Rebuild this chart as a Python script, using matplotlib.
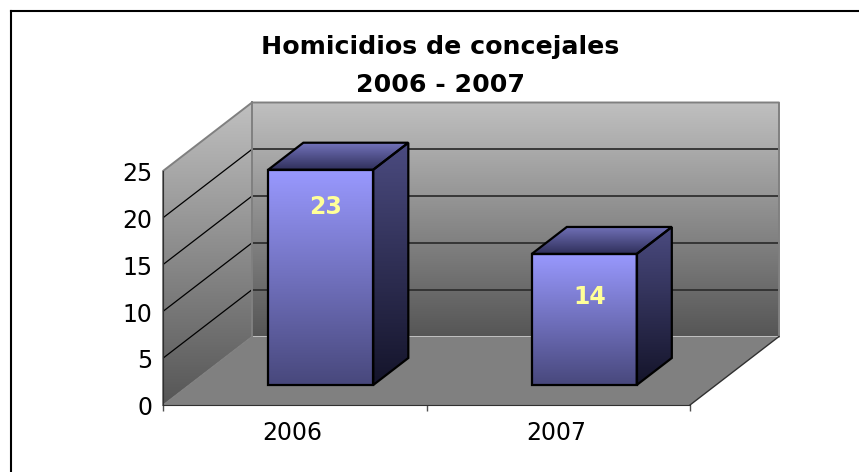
import matplotlib
matplotlib.use("Agg")
import matplotlib.pyplot as plt
import numpy as np
from matplotlib.patches import Polygon
from matplotlib.transforms import ScaledTranslation

categories = ["2006", "2007"]
values = [23, 14]
yticks = [0, 5, 10, 15, 20, 25]

W, H = 859, 472
plt.rcParams['font.family'] = ['DejaVu Sans']

fig = plt.figure(figsize=(W / 100, H / 100), dpi=100)
fig.patch.set_facecolor('white')

# outer frame
fig.add_artist(plt.Line2D([11 / W, 11 / W], [1 - 11 / H, 0], color='black', lw=1.5))
fig.add_artist(plt.Line2D([11 / W, 1], [1 - 11 / H, 1 - 11 / H], color='black', lw=1.5))

# axes box is the front plane of the 3d chart
x0, x1, y0, y1 = 163, 690, 405, 171
ax = fig.add_axes([x0 / W, 1 - y0 / H, (x1 - x0) / W, (y0 - y1) / H])
ax.patch.set_visible(False)
ax.set_xlim(0, 2)
ax.set_ylim(0, 25)

# depth shear, in data units per unit of depth
DX = 89 / 263.5
DY = 68.5 / 9.36


def pr(x, y, d):
    return (x + DX * d, y + DY * d)


def grad_poly(pts, top, bottom, edge=None, lw=0, z=1):
    pts = np.array(pts)
    c0 = np.array(matplotlib.colors.to_rgb(top))
    c1 = np.array(matplotlib.colors.to_rgb(bottom))
    t = np.linspace(0, 1, 256)[:, None, None]
    img = c0[None, None, :] * (1 - t) + c1[None, None, :] * t
    ext = [pts[:, 0].min(), pts[:, 0].max(), pts[:, 1].min(), pts[:, 1].max()]
    im = ax.imshow(img, extent=ext, origin='upper', aspect='auto', zorder=z, interpolation='bilinear')
    clip = Polygon(pts, transform=ax.transData, fc='none', ec='none')
    ax.add_patch(clip)
    im.set_clip_path(clip)
    im.set_clip_box(fig.bbox)  # walls and bars stick out of the front plane
    if lw:
        ax.add_patch(Polygon(pts, fc='none', ec=edge, lw=lw, zorder=z + 0.1, clip_on=False, joinstyle='miter'))


ymax = yticks[-1]
# back wall, side wall, floor
grad_poly([pr(0, 0, 1), pr(2, 0, 1), pr(2, ymax, 1), pr(0, ymax, 1)], '#c0c0c0', '#565656', z=1)
grad_poly([pr(0, 0, 0), pr(0, 0, 1), pr(0, ymax, 1), pr(0, ymax, 0)], '#c0c0c0', '#565656', z=1)
ax.add_patch(Polygon([pr(0, 0, 0), pr(2, 0, 0), pr(2, 0, 1), pr(0, 0, 1)], fc='#808080', ec='none', zorder=1.5, clip_on=False))

# grid lines
for v in yticks[1:-1]:
    a, b, c = pr(0, v, 0), pr(0, v, 1), pr(2, v, 1)
    ax.plot([a[0], b[0]], [a[1], b[1]], color='black', lw=0.9, zorder=2, clip_on=False)
    ax.plot([b[0], c[0]], [b[1], c[1]], color='#303030', lw=1.3, zorder=2, clip_on=False)

# wall outlines
out = [pr(0, 0, 0), pr(0, ymax, 0), pr(0, ymax, 1), pr(2, ymax, 1), pr(2, 0, 1)]
ax.plot(*zip(*out), color='#808080', lw=1.4, zorder=2.2, clip_on=False)
ax.plot(*zip(pr(0, 0, 1), pr(0, ymax, 1)), color='#808080', lw=1.4, zorder=2.2, clip_on=False)
ax.plot(*zip(pr(0, 0, 0), pr(0, 0, 1)), color='#808080', lw=0.8, zorder=2.2, clip_on=False)
ax.plot(*zip(pr(2, 0, 0), pr(2, 0, 1)), color='#303030', lw=1, zorder=2.2, clip_on=False)

# bars
bw = 105 / 263.5
d0, d1 = 20 / 68.5, 47 / 68.5
label_drop = [4.0, 4.6]
label_shift = [0.0, 0.004]
for i, v in enumerate(values):
    l, r = i + 0.5 - bw / 2, i + 0.5 + bw / 2
    z = 3 + i
    grad_poly([pr(r, 0, d0), pr(r, 0, d1), pr(r, v, d1), pr(r, v, d0)], '#4b4b80', '#14142a', edge='black', lw=1.6, z=z)
    grad_poly([pr(l, v, d0), pr(r, v, d0), pr(r, v, d1), pr(l, v, d1)], '#7272ba', '#2f2f5a', edge='black', lw=1.6, z=z)
    grad_poly([pr(l, 0, d0), pr(r, 0, d0), pr(r, v, d0), pr(l, v, d0)], '#9999ff', '#48487c', edge='black', lw=1.6, z=z)
    tx, ty = pr(i + 0.5, v - label_drop[i], d0)
    ax.text(tx + 0.017 + label_shift[i], ty, str(v), color='#ffff99', fontsize=17, fontweight='bold',
            ha='center', va='center', zorder=z + 1)

ax.set_xlim(0, 2)
ax.set_ylim(0, 25)

# axes
for s in ['top', 'right']:
    ax.spines[s].set_visible(False)
ax.spines['left'].set_color('#303030')
ax.spines['bottom'].set_color('#303030')
ax.spines['left'].set_zorder(2.5)
ax.spines['bottom'].set_zorder(2.5)
ax.set_yticks(yticks)
ax.tick_params(axis='y', length=0, labelsize=17, pad=7.5)
ax.set_xticks([0, 1, 2])
ax.set_xticklabels([])
ax.tick_params(axis='x', which='major', length=4.5, width=1, color='#505050')
ax.set_xticks([0.5, 1.5], minor=True)
ax.set_xticklabels(categories, minor=True, fontsize=17)
ax.tick_params(axis='x', which='minor', length=0, pad=11.5)

# nudge tick labels onto the reference positions
for lab in ax.get_yticklabels():
    lab.set_transform(lab.get_transform() + ScaledTranslation(0, -0.5 / 72, fig.dpi_scale_trans))
for lab in ax.get_xticklabels(minor=True):
    lab.set_transform(lab.get_transform() + ScaledTranslation(-1.5 / 72, 0, fig.dpi_scale_trans))

fig.text(440 / W, 1 - 66 / H, "Homicidios de concejales\n2006 - 2007", fontsize=18.2, fontweight='bold',
         ha='center', va='center', linespacing=1.7)

fig.savefig("out.png", dpi=100)
